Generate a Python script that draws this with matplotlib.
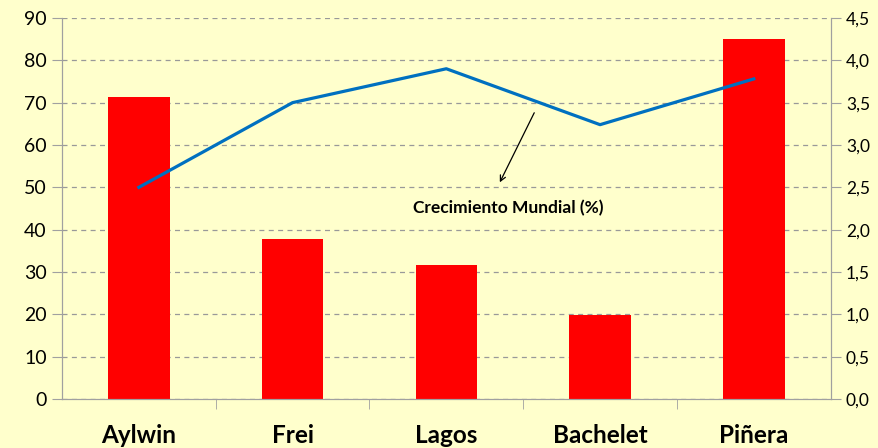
import numpy as np
import matplotlib.pyplot as plt

presidentes = ["Aylwin", "Frei", "Lagos", "Bachelet", "Piñera"]
aprobacion = [71.3, 37.8, 31.7, 19.8, 85.0]
crecimiento_mundial = [2.5, 3.5, 3.9, 3.24, 3.78]

left_ticks = list(range(0, 91, 10))
right_ticks = [0.0, 0.5, 1.0, 1.5, 2.0, 2.5, 3.0, 3.5, 4.0, 4.5]
right_labels = [f"{v:.1f}".replace(".", ",") for v in right_ticks]

bg = "#FFFFCC"
axis_col = "#A0A0A0"

plt.rcParams["font.family"] = ["Lato", "DejaVu Sans"]

fig = plt.figure(figsize=(8.79, 4.48), dpi=100, facecolor=bg)
ax = fig.add_axes([0.0705, 0.109, 0.8745, 0.851])
ax.set_facecolor(bg)

x = np.arange(len(presidentes))
ax.bar(x, aprobacion, width=0.4, color="#FF0000", zorder=2)
ax.set_xlim(-0.5, len(presidentes) - 0.5)
ax.set_ylim(0, 90)
ax.set_yticks(left_ticks)
ax.tick_params(axis="y", labelsize=14, length=7, color=axis_col, pad=4)
ax.set_xticks(x)
ax.set_xticklabels(presidentes, fontsize=17.5, fontweight="bold")
ax.tick_params(axis="x", which="major", length=0, pad=18)
ax.set_xticks(np.arange(0.5, len(presidentes) - 1, 1.0), minor=True)
ax.tick_params(axis="x", which="minor", length=7, color=axis_col)
ax.yaxis.grid(True, linestyle=(0, (4, 3.5)), color="#999999", linewidth=0.9, zorder=0)
ax.set_axisbelow(True)
ax.spines["top"].set_visible(False)
for s in ["left", "right", "bottom"]:
    ax.spines[s].set_color(axis_col)

ax2 = ax.twinx()
ax2.plot(x, crecimiento_mundial, color="#0070C0", linewidth=2.3, zorder=3)
ax2.set_ylim(0, 4.5)
ax2.set_yticks(right_ticks)
ax2.set_yticklabels(right_labels)
ax2.tick_params(axis="y", labelsize=12.5, length=7, color=axis_col, pad=4)
ax2.spines["top"].set_visible(False)
for s in ["left", "right", "bottom"]:
    ax2.spines[s].set_color(axis_col)

ax2.annotate("", xy=(2.34, 2.53), xytext=(2.58, 3.41),
             arrowprops=dict(arrowstyle="->", color="black", lw=0.9))
ax2.text(2.40, 2.26, "Crecimiento Mundial (%)", fontsize=12.5, fontweight="bold",
         ha="center", va="center")

fig.savefig("out.png", dpi=100, facecolor=bg)
